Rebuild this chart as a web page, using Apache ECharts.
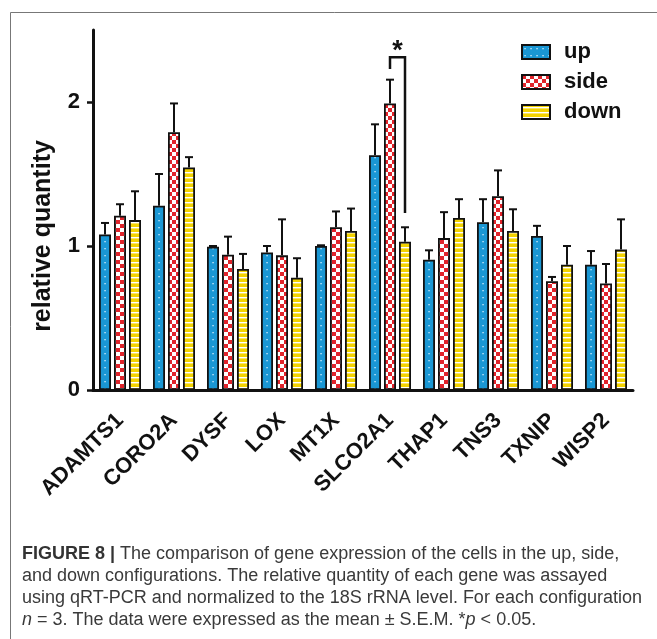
<!DOCTYPE html>
<html>
<head>
<meta charset="utf-8">
<script src="https://cdn.jsdelivr.net/npm/echarts@6/dist/echarts.min.js"></script>
<style>
  html, body { margin: 0; padding: 0; background: #fff; }
  #chart { width: 657px; height: 639px; }
</style>
</head>
<body>
<div id="chart"></div>
<script>
// ---- data ----
const categories = ['ADAMTS1', 'CORO2A', 'DYSF', 'LOX', 'MT1X', 'SLCO2A1', 'THAP1', 'TNS3', 'TXNIP', 'WISP2'];
const groupNames = ['up', 'side', 'down'];
const upMean   = [1.08, 1.28, 0.995, 0.955, 1.0, 1.63, 0.905, 1.165, 1.07, 0.87];
const upSem    = [0.08, 0.22, 0.005, 0.045, 0.005, 0.215, 0.065, 0.16, 0.07, 0.095];
const sideMean = [1.21, 1.79, 0.94, 0.935, 1.13, 1.99, 1.055, 1.345, 0.755, 0.74];
const sideSem  = [0.08, 0.20, 0.125, 0.25, 0.11, 0.165, 0.18, 0.18, 0.03, 0.135];
const downMean = [1.18, 1.545, 0.84, 0.78, 1.105, 1.03, 1.195, 1.105, 0.87, 0.975];
const downSem  = [0.20, 0.072, 0.105, 0.135, 0.155, 0.10, 0.13, 0.15, 0.13, 0.21];
const yTicks = [0, 1, 2];
// significance bracket: category, from group -> to group, levels (data units)
const sigCategory = 'SLCO2A1';
const sigFromGroup = 1, sigToGroup = 2;
const sigTop = 2.31, sigLeftEnd = 2.23, sigRightEnd = 1.23;
const sigLabel = '*';
const captionLines = [
  [['b', 'FIGURE 8 | '], ['r', 'The comparison of gene expression of the cells in the up, side,']],
  [['r', 'and down configurations. The relative quantity of each gene was assayed']],
  [['r', 'using qRT-PCR and normalized to the 18S rRNA level. For each configuration']],
  [['i', 'n'], ['r', ' = 3. The data were expressed as the mean \u00b1 S.E.M. *'], ['i', 'p'], ['r', ' < 0.05.']]
];

// ---- styling ----
const BAR_W = 12, BAR_GAP = 0.25;
const FONT = '"Liberation Sans", Arial, Helvetica, sans-serif';

function makePattern(kind) {
  const c = document.createElement('canvas');
  const ctx = c.getContext('2d');
  if (kind === 'dots') {
    c.width = 6; c.height = 7;
    ctx.fillStyle = '#1a97d4'; ctx.fillRect(0, 0, 6, 7);
    ctx.fillStyle = '#d8f0ff'; ctx.fillRect(2.4, 3, 1.3, 1.3);
  } else if (kind === 'checker') {
    c.width = 8; c.height = 8;
    ctx.fillStyle = '#ffffff'; ctx.fillRect(0, 0, 8, 8);
    ctx.fillStyle = '#e1242b'; ctx.fillRect(0, 0, 4, 4); ctx.fillRect(4, 4, 4, 4);
  } else {
    c.width = 4; c.height = 5;
    ctx.fillStyle = '#f3d300'; ctx.fillRect(0, 0, 4, 5);
    ctx.fillStyle = '#ffffff'; ctx.fillRect(0, 2, 4, 1.4);
  }
  return { image: c, repeat: 'repeat' };
}
const patterns = [makePattern('dots'), makePattern('checker'), makePattern('stripes')];
const means = [upMean, sideMean, downMean];
const sems = [upSem, sideSem, downSem];

const chart = echarts.init(document.getElementById('chart'), null, { renderer: 'canvas' });

function groupOffset(g) { return (g - 1) * (BAR_W * (1 + BAR_GAP)); }

const barSeries = groupNames.map((name, g) => ({
  name: name,
  type: 'bar',
  data: means[g],
  barWidth: BAR_W,
  barGap: (BAR_GAP * 100) + '%',
  itemStyle: { color: patterns[g], borderColor: '#111', borderWidth: 1.8 },
  z: 3
}));

const errSeries = groupNames.map((name, g) => ({
  name: name + ' err',
  type: 'custom',
  z: 2,
  data: categories.map((c, i) => [i, means[g][i], sems[g][i]]),
  encode: { x: 0, y: 1 },
  renderItem: function (params, api) {
    const i = api.value(0), m = api.value(1), e = api.value(2);
    const base = api.coord([i, m]);
    const top = api.coord([i, m + e]);
    const x = base[0] + groupOffset(g);
    const st = { stroke: '#111', lineWidth: 2 };
    return {
      type: 'group',
      children: [
        { type: 'line', shape: { x1: x, y1: base[1], x2: x, y2: top[1] }, style: st },
        { type: 'line', shape: { x1: x - 4, y1: top[1], x2: x + 4, y2: top[1] }, style: st }
      ]
    };
  }
}));

const sigIndex = categories.indexOf(sigCategory);
const sigSeries = {
  name: 'significance',
  type: 'custom',
  z: 4,
  data: [[sigIndex, sigTop, sigLeftEnd, sigRightEnd]],
  encode: { x: 0, y: 1 },
  renderItem: function (params, api) {
    const i = api.value(0);
    const pTop = api.coord([i, api.value(1)]);
    const pL = api.coord([i, api.value(2)]);
    const pR = api.coord([i, api.value(3)]);
    const xL = pTop[0] + groupOffset(sigFromGroup);
    const xR = pTop[0] + groupOffset(sigToGroup);
    return {
      type: 'group',
      children: [
        { type: 'polyline', shape: { points: [[xL, pL[1]], [xL, pTop[1]], [xR, pTop[1]], [xR, pR[1]]] },
          style: { stroke: '#111', lineWidth: 2.5, fill: null } },
        { type: 'text', x: (xL + xR) / 2, y: pTop[1] - 6,
          style: { text: sigLabel, font: 'bold 27px ' + FONT, fill: '#111', align: 'center', verticalAlign: 'middle' } }
      ]
    };
  }
};

const captionGraphics = captionLines.map((parts, li) => ({
  type: 'text',
  left: 22,
  top: 545 + li * 22,
  style: {
    text: parts.map(p => '{' + p[0] + '|' + p[1] + '}').join(''),
    rich: {
      b: { font: 'bold 18px ' + FONT, fill: '#333' },
      r: { font: '18px ' + FONT, fill: '#3a3a3a' },
      i: { font: 'italic 18px ' + FONT, fill: '#3a3a3a' }
    }
  }
}));

const option = {
  backgroundColor: '#ffffff',
  animation: false,
  grid: { left: 93, right: 24, top: 30, bottom: 249, containLabel: false },
  legend: {
    data: groupNames,
    orient: 'vertical',
    left: 516,
    top: 36,
    itemWidth: 28,
    itemHeight: 14,
    itemGap: 8,
    icon: 'rect',
    textStyle: { fontFamily: FONT, fontSize: 22, fontWeight: 'bold', color: '#111', padding: [0, 0, 0, 9] }
  },
  xAxis: {
    type: 'category',
    data: categories,
    axisLine: { lineStyle: { color: '#111', width: 3 } },
    axisTick: { alignWithLabel: true, length: 6, lineStyle: { color: '#111', width: 2.5 } },
    axisLabel: { rotate: 45, margin: 27, fontFamily: FONT, fontSize: 22, fontWeight: 'bold', color: '#111', interval: 0 },
    splitLine: { show: false }
  },
  yAxis: {
    type: 'value',
    min: 0,
    max: 2.5,
    axisLine: { show: true, lineStyle: { color: '#111', width: 3 } },
    axisTick: { show: true, customValues: yTicks, length: 6, lineStyle: { color: '#111', width: 2.5 } },
    axisLabel: { customValues: yTicks, margin: 13, fontFamily: FONT, fontSize: 22, fontWeight: 'bold', color: '#111' },
    splitLine: { show: false }
  },
  graphic: [
    { type: 'rect', left: 8, top: 10, shape: { width: 700, height: 700 }, style: { fill: null, stroke: '#777', lineWidth: 1 }, silent: true },
    { type: 'text', x: 43, y: 236, rotation: Math.PI / 2,
      style: { text: 'relative quantity', font: 'bold 25px ' + FONT, fill: '#111', align: 'center', verticalAlign: 'middle' } }
  ].concat(captionGraphics),
  series: barSeries.concat(errSeries).concat([sigSeries])
};

chart.setOption(option);
</script>
</body>
</html>
